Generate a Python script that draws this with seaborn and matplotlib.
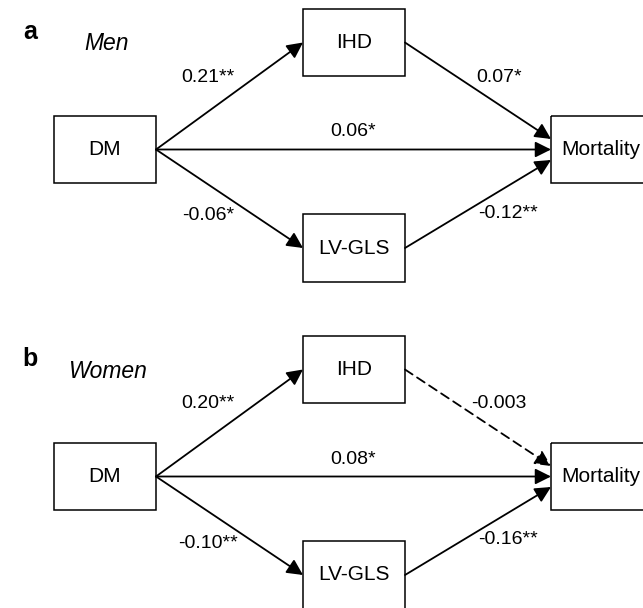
import matplotlib
matplotlib.use("Agg")
import matplotlib.pyplot as plt
from matplotlib.patches import Rectangle, FancyArrowPatch
import seaborn as sns

# Path model: DM -> IHD / LV-GLS -> Mortality, plus direct DM -> Mortality
nodes = ["DM", "IHD", "LV-GLS", "Mortality"]
edges = [("DM", "IHD"), ("DM", "LV-GLS"), ("DM", "Mortality"),
         ("IHD", "Mortality"), ("LV-GLS", "Mortality")]
panel_letters = ["a", "b"]
groups = ["Men", "Women"]
coef_men = ["0.21", "-0.06", "0.06", "0.07", "-0.12"]
sig_men = ["**", "*", "*", "*", "**"]
coef_women = ["0.20", "-0.10", "0.08", "-0.003", "-0.16"]
sig_women = ["**", "**", "*", "", "**"]

sns.set_theme(style="white")
plt.rcParams["font.family"] = ["Liberation Sans", "DejaVu Sans"]
plt.rcParams["text.color"] = "black"

W, H = 643, 608
fig = plt.figure(figsize=(W / 100, H / 100), dpi=100)
ax = fig.add_axes([0, 0, 1, 1])
ax.set_xlim(0, W)
ax.set_ylim(H, 0)
ax.axis("off")

# box layout (x0, y0, x1, y1) for one panel, in pixel units
box = {
    "DM": (54, 116, 156, 183),
    "IHD": (303, 9, 405, 76),
    "LV-GLS": (303, 214, 405, 282),
    "Mortality": (551, 116, 655, 183),
}
text_x = {"DM": 105, "IHD": 354, "LV-GLS": 354, "Mortality": 601}
# arrow end points at Mortality (fan-in on its left side)
mort_in = {"DM": 149.5, "IHD": 139, "LV-GLS": 160}
# label anchor points for each edge
label_pos = [(208, 77), (208, 216), (353, 132), (499, 77), (508, 213)]
panel_dy = [0, 327]
letter_pos = (30, 32)
group_pos = (107, 44)


def draw_panel(dy, letter, group, coefs, sigs):
    ax.text(letter_pos[0], letter_pos[1] + dy, letter, fontsize=18,
            fontweight="bold", ha="center", va="center")
    ax.text(group_pos[0], group_pos[1] + dy, group, fontsize=16.5,
            style="italic", ha="center", va="center")
    for name in nodes:
        x0, y0, x1, y1 = box[name]
        ax.add_patch(Rectangle((x0, y0 + dy), x1 - x0, y1 - y0,
                               fill=False, ec="black", lw=1.1))
        ax.text(text_x[name], (y0 + y1) / 2 + dy, name, fontsize=15,
                ha="center", va="center")
    for (src, dst), c, s, (lx, ly) in zip(edges, coefs, sigs, label_pos):
        sx0, sy0, sx1, sy1 = box[src]
        dx0, dy0, dx1, dy1 = box[dst]
        start = (sx1, (sy0 + sy1) / 2 + dy)
        if dst == "Mortality":
            end = (dx0, mort_in[src] + dy)
        else:
            end = (dx0, (dy0 + dy1) / 2 + dy)
        ls = "-" if s else (0, (5, 3))
        ax.add_patch(FancyArrowPatch(start, end, arrowstyle="-|>",
                                     mutation_scale=24, lw=1.3,
                                     color="black", linestyle=ls,
                                     shrinkA=0, shrinkB=0))
        ax.text(lx, ly + dy, c + s, fontsize=14, ha="center", va="center")


for dy, letter, group, coefs, sigs in zip(panel_dy, panel_letters, groups,
                                          [coef_men, coef_women],
                                          [sig_men, sig_women]):
    draw_panel(dy, letter, group, coefs, sigs)

fig.savefig("out.png", dpi=100, facecolor="white")
